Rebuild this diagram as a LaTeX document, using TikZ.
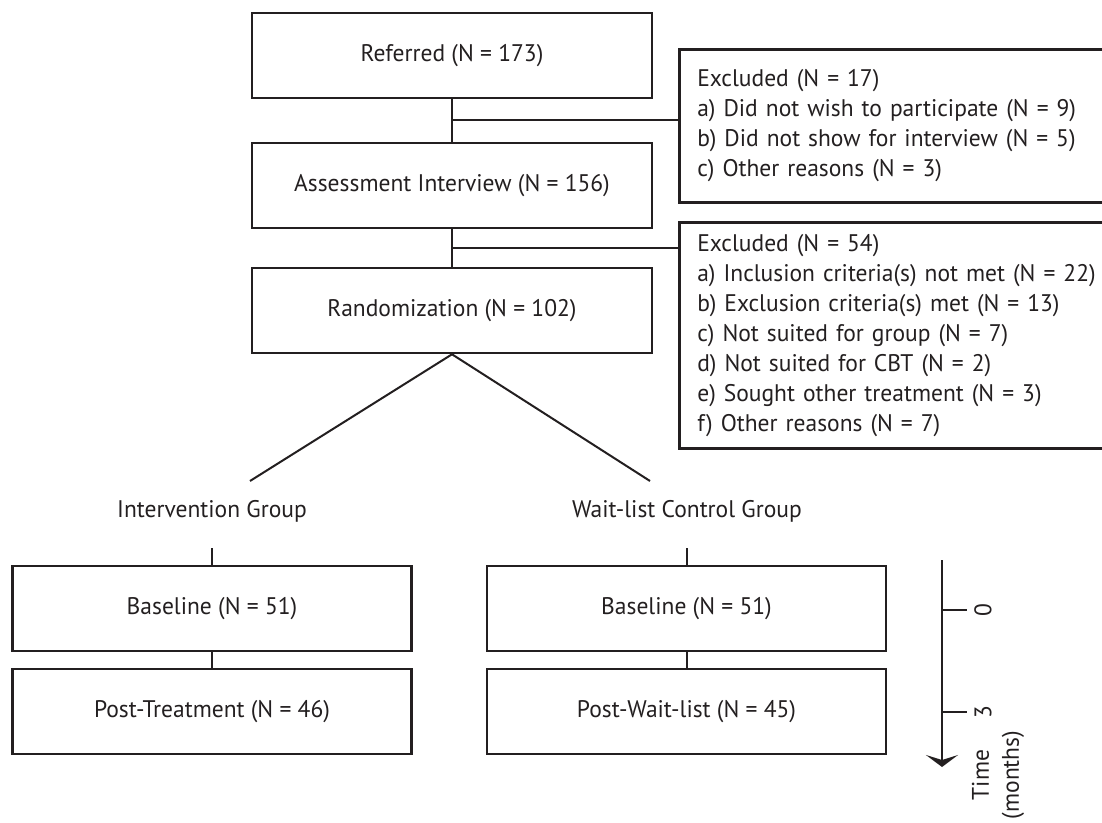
\documentclass[tikz,border=0pt]{standalone}
\usepackage{fontspec}
\setmainfont{PT Sans}[FakeStretch=0.98]
\usetikzlibrary{arrows.meta,calc}
\definecolor{ink}{HTML}{231F20}
\tikzstyle{bx}=[draw=ink,line width=1.3pt,minimum width=200pt,minimum height=42.5pt,inner sep=0pt,text=ink,font=\fontsize{12}{15}\selectfont]
\tikzstyle{sbx}=[bx,minimum width=199.5pt]
\tikzstyle{ex}=[bx,anchor=north west,text width=240pt,inner xsep=9pt,align=left]
\tikzstyle{lbl}=[text=ink,inner sep=0pt,font=\fontsize{12}{15}\selectfont]
\tikzstyle{ln}=[draw=ink,line width=1pt]

\begin{document}
\begin{tikzpicture}[x=0.5pt,y=-0.5pt]
\useasboundingbox (0,0) rectangle (1102,823);
\clip (0,0) rectangle (1102,823);
\node[bx] (ref) at (452,55.5) {Referred (N = 173)};
\node[bx] (ass) at (452,185.5) {Assessment Interview (N = 156)};
\node[bx] (rnd) at (452,310.5) {Randomization (N = 102)};
\node[ex,minimum height=76.5pt] (ex1) at (678,48) {Excluded (N = 17)\\
a) Did not wish to participate (N = 9)\\
b) Did not show for interview (N = 5)\\
c) Other reasons (N = 3)};
\node[ex,minimum height=113pt] (ex2) at (678,221) {Excluded (N = 54)\\
a) Inclusion criteria(s) not met (N = 22)\\
b) Exclusion criteria(s) met (N = 13)\\
c) Not suited for group (N = 7)\\
d) Not suited for CBT (N = 2)\\
e) Sought other treatment (N = 3)\\
f) Other reasons (N = 7)};
\draw[ln] (ref) -- (ass);
\draw[ln] (ass) -- (rnd);
\coordinate (b1) at ($(ref.south)!.5!(ass.north)$);
\coordinate (b2) at ($(ass.south)!.5!(rnd.north)$);
\draw[ln] (b1) -- (b1 -| ex1.west);
\draw[ln] (b2) -- (b2 -| ex2.west);

\node[lbl] (ig) at (212,511) {Intervention Group};
\node[lbl] (wg) at (687,511) {Wait-list Control Group};
\coordinate (gl) at (250,481);
\coordinate (gr) at (650,481);
\draw[ln] (gl) -- (rnd.south) -- (gr);

\node[sbx] (bs1) at (212,608.5) {Baseline (N = 51)};
\node[sbx] (pt1) at (212,711.5) {Post-Treatment (N = 46)};
\node[sbx] (bs2) at (686.5,608.5) {Baseline (N = 51)};
\node[sbx] (pt2) at (686.5,711.5) {Post-Wait-list (N = 45)};
\coordinate (s1) at (212,548);
\coordinate (s2) at (686.5,548);
\draw[ln] (s1) -- (bs1);
\draw[ln] (s2) -- (bs2);
\draw[ln] (bs1) -- (pt1);
\draw[ln] (bs2) -- (pt2);

\coordinate (t0) at (942,560);
\coordinate (t1) at (942,767);
\draw[ln,-{Stealth[width=16pt,length=6pt,inset=2.5pt]}] (t0) -- (t1);
\coordinate (k0) at (942,610);
\coordinate (k3) at (942,712);
\draw[ln] (k0) -- ++(25,0);
\draw[ln] (k3) -- ++(25,0);
\node[lbl,rotate=90] (m0) at (983,610) {0};
\node[lbl,rotate=90] (m3) at (983,712) {3};
\node[lbl,rotate=90,align=center] (tm) at (998,775) {Time\\(months)};
\end{tikzpicture}
\end{document}
